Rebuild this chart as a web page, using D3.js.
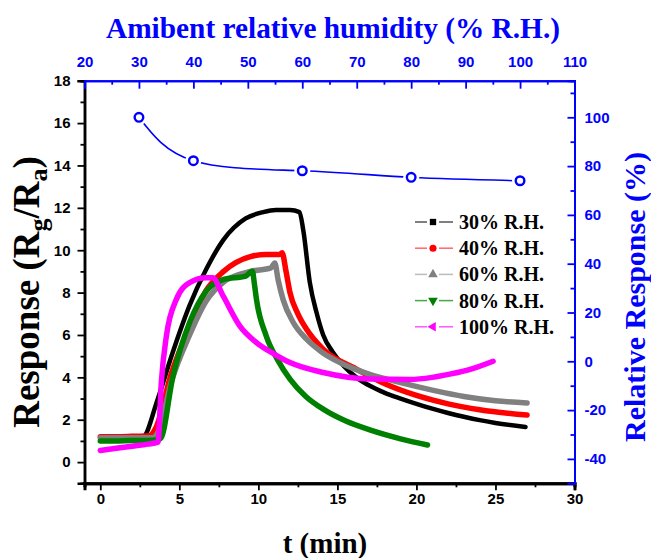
<!DOCTYPE html>
<html><head><meta charset="utf-8">
<script src="https://cdn.jsdelivr.net/npm/d3@7"></script>
<style>body{margin:0;background:#fff}</style>
</head><body>
<svg id="c" width="651" height="558"></svg>
<script>
// ---- data ----
const xTicks = [0,5,10,15,20,25,30];
const yTicks = [0,2,4,6,8,10,12,14,16,18];
const topTicks = [20,30,40,50,60,70,80,90,100,110];
const rightTicks = [-40,-20,0,20,40,60,80,100];

const seriesNames = ["30% R.H.","40% R.H.","60% R.H.","80% R.H.","100% R.H."];
const seriesColors = ["#000000","#ff0000","#808080","#008000","#ff00ff"];
const legendLineColors = ["#555555","#ff6666","#bbbbbb","#44aa44","#ff55ff"];

const t30 = [0,1,2,2.7,3.6,4.5,5.65,6.7,7.8,9.2,10.3,11.1,12.0,12.6,12.85,13.25,13.7,14.1,14.7,15.4,16.2,17.05,18,19,20,21,22,23,24,25,26.9];
const r30 = [1.15,1.15,1.18,1.2,2.9,5.0,7.4,9.1,10.5,11.5,11.8,11.9,11.9,11.8,10.9,8.5,7.0,6.0,5.2,4.54,4.0,3.6,3.27,3.0,2.75,2.52,2.32,2.14,1.98,1.85,1.66];
const t40 = [0,1,2,3.1,3.5,4.5,5.65,6.7,7.8,9.5,10.5,11.35,11.5,11.75,12.0,12.5,13.05,14.1,16.2,18,20,22,24,27];
const r40 = [1.2,1.2,1.22,1.25,1.6,4.2,6.4,8.1,9.0,9.7,9.8,9.8,9.88,9.0,8.0,7.0,6.27,5.33,4.39,3.7,3.15,2.75,2.47,2.22];
const t60 = [0,1,2,3.3,3.7,4.5,5.65,6.7,7.8,9.5,10.8,11.04,11.25,11.56,12.2,13.05,14,15.15,17,19,21,23,25,27];
const r60 = [1.15,1.15,1.15,1.15,1.5,3.8,6.0,7.6,8.5,9.0,9.17,9.4,8.6,7.68,6.6,5.8,5.2,4.7,4.15,3.75,3.4,3.1,2.9,2.79];
const t80 = [0,1,2,3,3.8,4.6,5.65,6.7,7.8,9.2,9.62,9.75,9.88,10.5,11.2,12.0,13,14.1,15.5,17.05,19,20.7];
const r80 = [1.0,1.0,1.02,1.02,1.1,4.07,6.59,8.07,8.62,8.78,9.01,8.4,7.68,5.95,4.85,3.92,3.1,2.5,1.95,1.52,1.1,0.81];
const t100 = [0,1,2,3,3.65,3.86,4.18,4.81,5.65,6.7,7.1,7.77,8.82,9.88,11,12,14.1,17.05,19.6,21,22.1,23.5,24.85];
const r100 = [0.55,0.65,0.75,0.85,0.94,3.76,5.95,7.68,8.47,8.7,8.7,7.84,6.43,5.64,5.1,4.7,4.23,3.92,3.9,4.0,4.15,4.4,4.76];

const humidity = [30,40,60,80,100];
const relResponse = [100,82.2,78.1,75.4,74];

const seriesT = [t30,t40,t60,t80,t100];
const seriesR = [r30,r40,r60,r80,r100];

// ---- layout ----
const L=84.5, R=574.5, T=80.7, B=483.3;
const svg = d3.select("#c");
const x = d3.scaleLinear([-1,30],[L,R]);
const xTop = d3.scaleLinear([20,110],[L,R]);
const y = d3.scaleLinear([-1,18],[B,T]);
const yR = d3.scaleLinear([-50,115],[B,T]);

const tickFont = "'Liberation Sans', Arial, sans-serif";
const serif = "'Liberation Serif','Times New Roman',serif";
const fmt = d => String(d);

function styleAxis(g, color, width){
  g.select(".domain").attr("stroke",color).attr("stroke-width",width);
  g.selectAll(".tick line").attr("stroke",color).attr("stroke-width",1.8);
  g.selectAll(".tick text").attr("fill",color).attr("font-family",tickFont)
   .attr("font-weight","bold").attr("font-size",15);
}

// curves
const line = d3.line().x(d=>x(d[0])).y(d=>y(d[1])).curve(d3.curveMonotoneX);
seriesT.forEach((ts,i)=>{
  const pts = ts.map((t,j)=>[t,seriesR[i][j]]);
  svg.append("path").attr("d",line(pts)).attr("fill","none")
    .attr("stroke",seriesColors[i]).attr("stroke-width", i===0?4.5:5.5)
    .attr("stroke-linejoin","round").attr("stroke-linecap","round");
});

// blue relative response curve
const bl = d3.line().x(d=>xTop(d[0])).y(d=>yR(d[1])).curve(d3.curveNatural);
const bpts = humidity.map((h,i)=>[h,relResponse[i]]);
svg.append("path").attr("d",bl(bpts)).attr("fill","none").attr("stroke","#0000ff").attr("stroke-width",1.6);
svg.selectAll(".bgap").data(bpts).join("circle").attr("cx",d=>xTop(d[0])).attr("cy",d=>yR(d[1]))
  .attr("r",8).attr("fill","#fff");
svg.selectAll(".bc").data(bpts).join("circle").attr("cx",d=>xTop(d[0])).attr("cy",d=>yR(d[1]))
  .attr("r",4.3).attr("fill","#fff").attr("stroke","#0000ff").attr("stroke-width",2.4);

// axes
const gl = svg.append("g").attr("transform",`translate(${L},0)`)
  .call(d3.axisLeft(y).tickValues(yTicks).tickSize(7).tickPadding(7).tickFormat(fmt));
styleAxis(gl,"#000",2.5);
const glm = svg.append("g").attr("transform",`translate(${L},0)`)
  .call(d3.axisLeft(y).tickValues(d3.range(1,18,2)).tickSize(4).tickFormat(""));
styleAxis(glm,"#000",2.5);

const gb = svg.append("g").attr("transform",`translate(0,${B})`)
  .call(d3.axisBottom(x).tickValues(xTicks).tickSize(7).tickPadding(3).tickFormat(fmt));
styleAxis(gb,"#000",3);
const gbm = svg.append("g").attr("transform",`translate(0,${B})`)
  .call(d3.axisBottom(x).tickValues(d3.range(2.5,30,5)).tickSize(4).tickFormat(""));
styleAxis(gbm,"#000",3);

const gt = svg.append("g").attr("transform",`translate(0,${T})`)
  .call(d3.axisTop(xTop).tickValues(topTicks).tickSize(-8).tickPadding(14).tickFormat(fmt));
styleAxis(gt,"#0000ff",2);
const gtm = svg.append("g").attr("transform",`translate(0,${T})`)
  .call(d3.axisTop(xTop).tickValues(d3.range(25,110,10)).tickSize(-4).tickFormat(""));
styleAxis(gtm,"#0000ff",2);

const gr = svg.append("g").attr("transform",`translate(${R},0)`)
  .call(d3.axisRight(yR).tickValues(rightTicks).tickSize(-7).tickPadding(10).tickFormat(fmt));
styleAxis(gr,"#0000ff",2);
const grm = svg.append("g").attr("transform",`translate(${R},0)`)
  .call(d3.axisRight(yR).tickValues(d3.range(-30,115,20)).tickSize(-4).tickFormat(""));
styleAxis(grm,"#0000ff",2);

// titles
svg.append("text").attr("x",333).attr("y",38).attr("text-anchor","middle")
  .attr("font-family",serif).attr("font-weight","bold").attr("font-size",30).attr("fill","#0000ff")
  .attr("textLength",454).attr("lengthAdjust","spacingAndGlyphs")
  .text("Amibent relative humidity (% R.H.)");

svg.append("text").attr("x",325).attr("y",553).attr("text-anchor","middle")
  .attr("font-family",serif).attr("font-weight","bold").attr("font-size",29).attr("fill","#000")
  .text("t (min)");

const ly = svg.append("text").attr("transform","translate(39,292) rotate(-90)").attr("text-anchor","middle")
  .attr("font-family",serif).attr("font-weight","bold").attr("font-size",37).attr("fill","#000");
ly.append("tspan").text("Response (R");
ly.append("tspan").attr("font-size",26).attr("dy",8).text("g");
ly.append("tspan").attr("dy",-8).text("/R");
ly.append("tspan").attr("font-size",26).attr("dy",8).text("a");
ly.append("tspan").attr("dy",-8).text(")");

svg.append("text").attr("transform","translate(645,297) rotate(-90)").attr("text-anchor","middle")
  .attr("font-family",serif).attr("font-weight","bold").attr("font-size",30).attr("fill","#0000ff")
  .text("Relative Response (%)");

// legend
const legY0 = 222, legDy = 26.2;
const markers = [d3.symbolSquare, d3.symbolCircle, d3.symbolTriangle, d3.symbolTriangle, d3.symbolTriangle];
const rotations = [0,0,0,180,-90];
seriesNames.forEach((nm,i)=>{
  const yy = legY0 + i*legDy;
  const g = svg.append("g");
  g.append("line").attr("x1",415).attr("x2",427).attr("y1",yy).attr("y2",yy).attr("stroke",legendLineColors[i]).attr("stroke-width",1.5);
  g.append("line").attr("x1",439).attr("x2",453).attr("y1",yy).attr("y2",yy).attr("stroke",legendLineColors[i]).attr("stroke-width",1.5);
  g.append("path").attr("d",d3.symbol(markers[i], 40)())
    .attr("transform",`translate(433,${yy}) rotate(${rotations[i]})`).attr("fill",seriesColors[i]);
  g.append("text").attr("x",459).attr("y",yy+7).attr("font-family",serif).attr("font-weight","bold")
    .attr("font-size",20).attr("fill","#000").text(nm);
});
</script>
</body></html>
